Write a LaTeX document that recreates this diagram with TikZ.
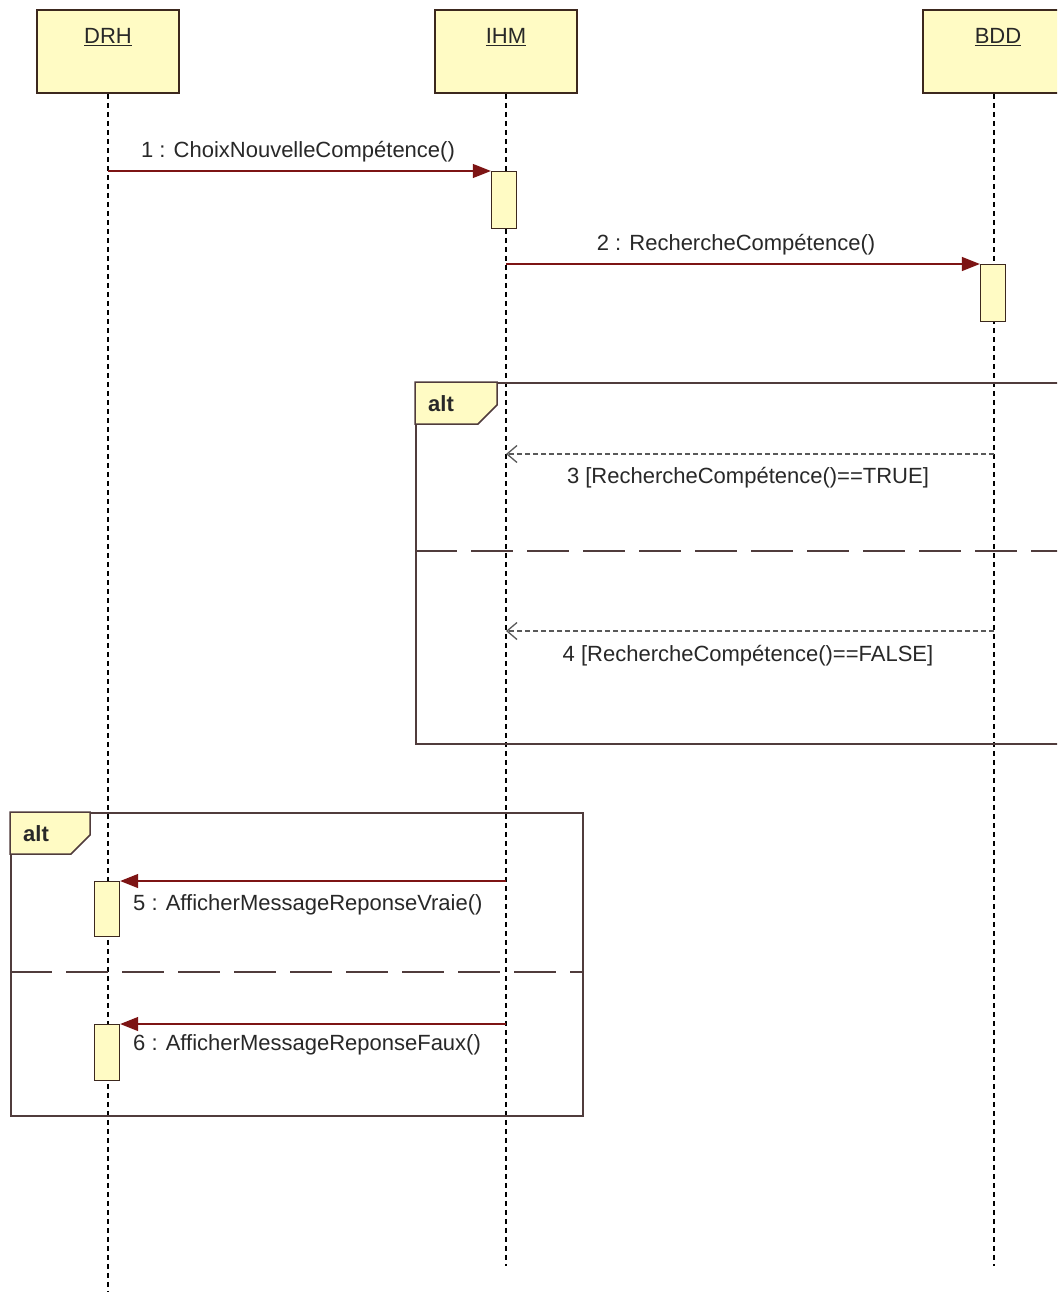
\documentclass[tikz,border=0pt]{standalone}
\usepackage{fontspec}
\setmainfont{Liberation Sans}
\usetikzlibrary{arrows.meta}
\definecolor{boxfill}{RGB}{255,251,196}
\definecolor{boxline}{RGB}{60,40,30}
\definecolor{msgred}{RGB}{125,20,20}
\definecolor{txt}{RGB}{40,40,40}
\definecolor{framecol}{RGB}{80,60,60}
\begin{document}
\begin{tikzpicture}[x=1pt,y=-1pt,font=\fontsize{22}{26}\selectfont,
  head/.style={draw=boxline,line width=1.6pt,fill=boxfill,minimum width=142pt,minimum height=83pt,inner sep=0pt},
  act/.style={draw=boxline,line width=1.4pt,fill=boxfill,minimum width=25pt,inner sep=0pt,anchor=north},
  life/.style={draw=black,line width=1.2pt,dash pattern=on 5pt off 4pt},
  sync/.style={draw=msgred,line width=1.3pt,-{Triangle[length=18pt,width=14pt]}},
  reply/.style={draw=black!65,line width=1.1pt,dash pattern=on 5pt off 3pt,-{Straight Barb[length=10pt,width=17pt,line width=1.3pt]}},
  frame/.style={draw=framecol,line width=1.5pt,inner sep=0pt},
  sep/.style={draw=framecol,line width=1.3pt,dash pattern=on 42pt off 14pt},
  lbl/.style={text=txt,inner sep=0pt}]
\clip (0,0) rectangle (1057,1292);
\fill[white] (0,0) rectangle (1057,1292);
% heads
\node[head] (drh) at (108,51.5) {};
\node[head] (ihm) at (506,51.5) {};
\node[head] (bdd) at (994,51.5) {};
\node[lbl] (drhl) at (108,37) {\underline{DRH}};
\node[lbl] (ihml) at (506,37) {\underline{IHM}};
\node[lbl] (bddl) at (998,37) {\underline{BDD}};
% lifeline ends
\coordinate (drhE) at (108,1292);
\coordinate (ihmE) at (506,1266);
\coordinate (bddE) at (994,1266);
\draw[life] (drh.south) -- (drhE);
\draw[life] (ihm.south) -- (ihmE);
\draw[life] (bdd.south) -- (bddE);
% frames
\node[frame,draw,minimum width=660pt,minimum height=361pt,anchor=north west] (alt1) at (415,382) {};
\draw[frame,fill=boxfill] (415,382) -- (497,382) -- (497,405) -- (478,424) -- (415,424) -- cycle;
\node[lbl,font=\fontsize{22}{26}\selectfont\bfseries] (alt1t) at (441,404) {alt};
\coordinate (s1a) at (415,551);
\coordinate (s1b) at (1060,551);
\draw[sep] (s1a) -- (s1b);
\node[frame,draw,minimum width=572pt,minimum height=303pt,anchor=north west] (alt2) at (10,812) {};
\draw[frame,fill=boxfill] (10,812) -- (90,812) -- (90,835) -- (71,854) -- (10,854) -- cycle;
\node[lbl,font=\fontsize{22}{26}\selectfont\bfseries] (alt2t) at (36,834) {alt};
\coordinate (s2a) at (10,972);
\coordinate (s2b) at (582,972);
\draw[sep] (s2a) -- (s2b);
% activations
\node[act,minimum height=57pt] (a1) at (504,171) {};
\node[act,minimum height=57pt] (a2) at (993,264) {};
\node[act,minimum height=55pt] (a5) at (107,881) {};
\node[act,minimum height=56pt] (a6) at (107,1024) {};
% messages
\coordinate (m1s) at (108,171);
\draw[sync] (m1s) -- (a1.north west);
\node[lbl] (l1) at (298,152) {1 : ChoixNouvelleCompétence()};
\coordinate (m2s) at (506,264);
\draw[sync] (m2s) -- (a2.north west);
\node[lbl] (l2) at (736,245) {2 : RechercheCompétence()};
\coordinate (m3s) at (994,454);
\coordinate (m3e) at (506,454);
\draw[reply] (m3s) -- (m3e);
\node[lbl] (l3) at (748,478) {3 [RechercheCompétence()==TRUE]};
\coordinate (m4s) at (994,631);
\coordinate (m4e) at (506,631);
\draw[reply] (m4s) -- (m4e);
\node[lbl] (l4) at (748,656) {4 [RechercheCompétence()==FALSE]};
\coordinate (m5s) at (506,881);
\draw[sync] (m5s) -- (a5.north east);
\node[lbl,anchor=west] (l5) at (133,905) {5 : AfficherMessageReponseVraie()};
\coordinate (m6s) at (506,1024);
\draw[sync] (m6s) -- (a6.north east);
\node[lbl,anchor=west] (l6) at (133,1045) {6 : AfficherMessageReponseFaux()};
\end{tikzpicture}
\end{document}
